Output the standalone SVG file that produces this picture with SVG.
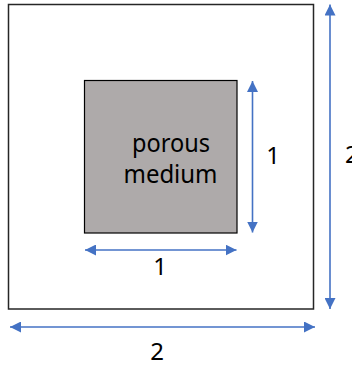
<svg xmlns="http://www.w3.org/2000/svg" width="352" height="369" viewBox="0 0 352 369">
<style>
.dim{stroke:#4472C4;stroke-width:1.6;fill:none;marker-start:url(#ah);marker-end:url(#ah)}
.lbl{font-family:"Noto Sans","Open Sans",sans-serif;font-size:24px;fill:#000;text-anchor:middle}
.big{font-size:25px}
</style>
<defs>
<marker id="ah" markerUnits="userSpaceOnUse" markerWidth="11" markerHeight="11" viewBox="0 0 10 10" refX="10" refY="5" orient="auto-start-reverse">
<path d="M0,0 L10,5 L0,10 Z" fill="#4472C4"/>
</marker>
</defs>
<rect width="352" height="369" fill="#fff"/>
<g id="domain">
<rect x="8.5" y="4.5" width="305" height="304.5" fill="#fff" stroke="#262626" stroke-width="1.5"/>
</g>
<g id="porous">
<rect x="84.5" y="80.5" width="152.5" height="152.5" fill="#AEAAAA" stroke="#000" stroke-width="1.2"/>
<text class="lbl big" x="171" y="151.5" textLength="78" lengthAdjust="spacingAndGlyphs">porous</text>
<text class="lbl big" x="170.5" y="183" textLength="94" lengthAdjust="spacingAndGlyphs">medium</text>
</g>
<g id="connectors">
<line class="dim" x1="252.5" y1="81" x2="252.5" y2="232.5"/>
<line class="dim" x1="85" y1="250" x2="236.5" y2="250"/>
<line class="dim" x1="330" y1="4.5" x2="330" y2="309"/>
<line class="dim" x1="10" y1="327" x2="315" y2="327"/>
</g>
<g id="labels">
<text class="lbl" x="273" y="164">1</text>
<text class="lbl" x="160" y="275">1</text>
<text class="lbl" x="157" y="360">2</text>
<text class="lbl" x="345" y="163" style="text-anchor:start">2</text>
</g>
</svg>
